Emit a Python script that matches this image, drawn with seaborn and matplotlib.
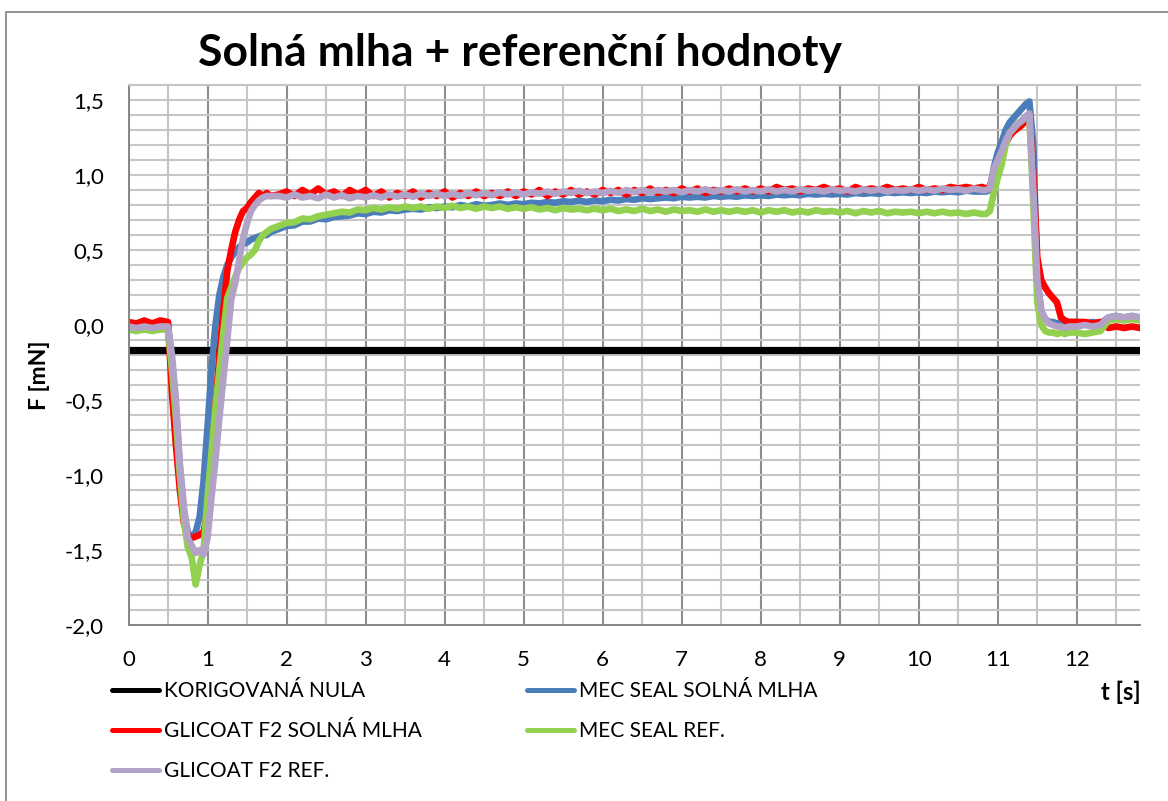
import matplotlib
matplotlib.use("Agg")
import matplotlib.pyplot as plt
import seaborn as sns
import pandas as pd
from matplotlib.ticker import MultipleLocator, FuncFormatter
from matplotlib.lines import Line2D

# ---------------- data ----------------
time_s = (
    [0.0, 0.1, 0.2, 0.3, 0.4, 0.5]
    + [0.55, 0.6, 0.65, 0.7, 0.75, 0.8, 0.85, 0.9, 0.95, 1.0, 1.05, 1.1, 1.15,
       1.2, 1.25, 1.3, 1.35, 1.4, 1.45, 1.5, 1.55, 1.6, 1.65, 1.7, 1.75, 1.8]
    + [1.9, 2.0, 2.1, 2.2, 2.3, 2.4, 2.5, 2.6, 2.7, 2.8,
       2.9, 3.0, 3.1, 3.2, 3.3, 3.4, 3.5, 3.6, 3.7, 3.8,
       3.9, 4.0, 4.1, 4.2, 4.3, 4.4, 4.5, 4.6, 4.7, 4.8,
       4.9, 5.0, 5.1, 5.2, 5.3, 5.4, 5.5, 5.6, 5.7, 5.8,
       5.9, 6.0, 6.1, 6.2, 6.3, 6.4, 6.5, 6.6, 6.7, 6.8,
       6.9, 7.0, 7.1, 7.2, 7.3, 7.4, 7.5, 7.6, 7.7, 7.8,
       7.9, 8.0, 8.1, 8.2, 8.3, 8.4, 8.5, 8.6, 8.7, 8.8,
       8.9, 9.0, 9.1, 9.2, 9.3, 9.4, 9.5, 9.6, 9.7, 9.8,
       9.9, 10.0, 10.1, 10.2, 10.3, 10.4, 10.5, 10.6, 10.7, 10.8]
    + [10.85, 10.9, 10.95, 11.0, 11.05, 11.1, 11.15, 11.2, 11.25, 11.3, 11.35,
       11.4, 11.45, 11.5, 11.55, 11.6, 11.65, 11.7, 11.75, 11.8, 11.85, 11.9]
    + [12.0, 12.1, 12.2, 12.3, 12.4, 12.5, 12.6, 12.7, 12.8]
)

korigovana_nula = -0.165

mec_seal_solna = (
    [0.00, 0.01, -0.01, 0.00, 0.01, 0.00]
    + [-0.25, -0.55, -0.95, -1.25, -1.38, -1.42, -1.38, -1.28, -1.04, -0.68, -0.30, 0.00, 0.20,
       0.32, 0.40, 0.45, 0.49, 0.52, 0.54, 0.55, 0.57, 0.58, 0.59, 0.60, 0.60, 0.62]
    + [0.64, 0.66, 0.665, 0.69, 0.69, 0.71, 0.705, 0.72, 0.725, 0.73,
       0.745, 0.74, 0.755, 0.75, 0.765, 0.76, 0.77, 0.775, 0.77, 0.785,
       0.78, 0.79, 0.785, 0.80, 0.79, 0.805, 0.795, 0.80, 0.81, 0.80,
       0.81, 0.805, 0.815, 0.81, 0.82, 0.815, 0.825, 0.82, 0.83, 0.82,
       0.83, 0.825, 0.835, 0.83, 0.84, 0.835, 0.845, 0.84, 0.845, 0.85,
       0.845, 0.855, 0.85, 0.855, 0.85, 0.86, 0.855, 0.86, 0.855, 0.865,
       0.86, 0.865, 0.86, 0.87, 0.865, 0.87, 0.865, 0.875, 0.87, 0.875,
       0.87, 0.875, 0.87, 0.88, 0.875, 0.88, 0.875, 0.885, 0.88, 0.885,
       0.88, 0.885, 0.88, 0.89, 0.885, 0.89, 0.885, 0.895, 0.89, 0.89]
    + [0.89, 0.90, 1.05, 1.15, 1.22, 1.30, 1.35, 1.38, 1.41, 1.44, 1.47,
       1.49, 1.20, 0.32, 0.09, 0.04, 0.02, 0.02, 0.01, 0.02, 0.01, 0.02]
    + [0.02, 0.01, 0.02, 0.01, 0.05, 0.06, 0.05, 0.06, 0.05]
)

glicoat_solna = (
    [0.02, 0.01, 0.03, 0.01, 0.03, 0.02]
    + [-0.45, -0.80, -1.10, -1.32, -1.40, -1.42, -1.41, -1.40, -1.38, -1.25, -0.90, -0.55, -0.20,
       0.10, 0.36, 0.50, 0.62, 0.70, 0.76, 0.78, 0.82, 0.85, 0.88, 0.86, 0.88, 0.86]
    + [0.87, 0.89, 0.86, 0.90, 0.87, 0.91, 0.87, 0.89, 0.86, 0.90,
       0.87, 0.90, 0.86, 0.89, 0.85, 0.88, 0.86, 0.89, 0.85, 0.88,
       0.86, 0.89, 0.85, 0.88, 0.86, 0.89, 0.86, 0.88, 0.86, 0.89,
       0.86, 0.89, 0.87, 0.90, 0.86, 0.89, 0.87, 0.90, 0.87, 0.89,
       0.87, 0.90, 0.88, 0.90, 0.87, 0.90, 0.88, 0.91, 0.88, 0.90,
       0.88, 0.91, 0.89, 0.91, 0.88, 0.90, 0.89, 0.91, 0.89, 0.91,
       0.89, 0.91, 0.89, 0.92, 0.90, 0.91, 0.89, 0.91, 0.90, 0.92,
       0.90, 0.91, 0.89, 0.92, 0.90, 0.91, 0.90, 0.92, 0.90, 0.91,
       0.90, 0.92, 0.90, 0.91, 0.90, 0.92, 0.91, 0.92, 0.91, 0.92]
    + [0.91, 0.92, 1.02, 1.09, 1.15, 1.21, 1.26, 1.29, 1.31, 1.33, 1.36,
       1.39, 1.00, 0.45, 0.30, 0.25, 0.21, 0.18, 0.15, 0.05, 0.03, 0.02]
    + [0.02, 0.02, 0.01, 0.02, -0.02, -0.01, -0.02, -0.01, -0.02]
)

mec_seal_ref = (
    [-0.03, -0.04, -0.03, -0.04, -0.03, -0.03]
    + [-0.30, -0.62, -1.00, -1.30, -1.48, -1.55, -1.73, -1.60, -1.50, -1.15, -0.85, -0.55, -0.30,
       -0.05, 0.18, 0.25, 0.32, 0.38, 0.42, 0.45, 0.47, 0.50, 0.56, 0.60, 0.62, 0.64]
    + [0.66, 0.68, 0.685, 0.71, 0.705, 0.725, 0.735, 0.745, 0.755, 0.75,
       0.77, 0.765, 0.78, 0.77, 0.785, 0.775, 0.79, 0.78, 0.79, 0.775,
       0.79, 0.78, 0.795, 0.78, 0.79, 0.775, 0.79, 0.78, 0.79, 0.775,
       0.785, 0.775, 0.785, 0.77, 0.78, 0.765, 0.78, 0.77, 0.775, 0.765,
       0.775, 0.765, 0.775, 0.76, 0.77, 0.76, 0.775, 0.76, 0.77, 0.755,
       0.77, 0.76, 0.765, 0.755, 0.77, 0.755, 0.765, 0.755, 0.765, 0.755,
       0.765, 0.75, 0.765, 0.755, 0.765, 0.75, 0.76, 0.75, 0.765, 0.755,
       0.76, 0.75, 0.76, 0.745, 0.76, 0.75, 0.76, 0.745, 0.755, 0.75,
       0.755, 0.745, 0.755, 0.745, 0.755, 0.745, 0.75, 0.74, 0.75, 0.74]
    + [0.74, 0.76, 0.88, 0.98, 1.07, 1.20, 1.28, 1.31, 1.34, 1.36, 1.38,
       1.40, 0.80, 0.15, 0.00, -0.04, -0.05, -0.05, -0.06, -0.05, -0.06, -0.05]
    + [-0.05, -0.06, -0.05, -0.04, 0.03, 0.04, 0.03, 0.04, 0.03]
)

glicoat_ref = (
    [-0.01, -0.02, -0.01, -0.02, -0.01, -0.01]
    + [-0.20, -0.50, -0.93, -1.20, -1.42, -1.47, -1.52, -1.50, -1.53, -1.42, -1.15, -0.90, -0.62,
       -0.36, -0.10, 0.17, 0.28, 0.43, 0.58, 0.68, 0.76, 0.80, 0.83, 0.85, 0.86, 0.86]
    + [0.86, 0.85, 0.87, 0.85, 0.86, 0.845, 0.87, 0.85, 0.865, 0.845,
       0.86, 0.85, 0.865, 0.85, 0.87, 0.855, 0.87, 0.855, 0.875, 0.86,
       0.875, 0.86, 0.875, 0.86, 0.88, 0.865, 0.88, 0.865, 0.885, 0.87,
       0.885, 0.87, 0.885, 0.875, 0.89, 0.875, 0.89, 0.88, 0.895, 0.88,
       0.89, 0.88, 0.895, 0.88, 0.90, 0.885, 0.90, 0.885, 0.90, 0.89,
       0.90, 0.885, 0.90, 0.89, 0.905, 0.89, 0.90, 0.89, 0.905, 0.89,
       0.90, 0.89, 0.905, 0.89, 0.90, 0.89, 0.905, 0.895, 0.90, 0.89,
       0.905, 0.895, 0.90, 0.89, 0.905, 0.895, 0.905, 0.89, 0.90, 0.895,
       0.905, 0.895, 0.905, 0.895, 0.91, 0.90, 0.905, 0.895, 0.91, 0.90]
    + [0.90, 0.91, 1.04, 1.10, 1.16, 1.23, 1.28, 1.31, 1.34, 1.36, 1.39,
       1.41, 0.90, 0.30, 0.10, 0.04, 0.01, 0.00, -0.01, -0.01, -0.02, -0.01]
    + [-0.01, 0.00, -0.01, 0.00, 0.05, 0.06, 0.05, 0.06, 0.05]
)

series_names = ["KORIGOVANÁ NULA", "MEC SEAL SOLNÁ MLHA", "GLICOAT F2 SOLNÁ MLHA",
                "MEC SEAL REF.", "GLICOAT F2 REF."]
series_colors = ["#000000", "#4A7DBA", "#FF0000", "#92D050", "#B3A2C7"]

y_ticks_values = [-2.0, -1.5, -1.0, -0.5, 0.0, 0.5, 1.0, 1.5]
title_text = "Solná mlha + referenční hodnoty"
x_label = "t [s]"
y_label = "F [mN]"

# ---------------- build long table ----------------
values = [[korigovana_nula] * len(time_s), mec_seal_solna, glicoat_solna,
          mec_seal_ref, glicoat_ref]
frames = []
for name, vals in zip(series_names, values):
    frames.append(pd.DataFrame({"t": time_s, "F": vals, "series": name}))
df = pd.concat(frames, ignore_index=True)

# ---------------- style ----------------
sns.set_style("white")
plt.rcParams["font.family"] = ["Lato", "DejaVu Sans"]
plt.rcParams["text.color"] = "#000000"

W, H = 1168, 801
fig = plt.figure(figsize=(W / 100, H / 100), dpi=100)
ax = fig.add_axes([128.5 / W, 1 - 625 / H, (1140 - 128.5) / W, (625 - 85) / H])

for name, col in zip(series_names, series_colors):
    sub = df[df["series"] == name]
    sns.lineplot(data=sub, x="t", y="F", color=col, linewidth=5.2 if col == "#000000" else 4.8,
                 estimator=None, sort=False, ax=ax, label=name, legend=False)

ax.set_xlim(0, 12.8)
ax.set_ylim(-2.0, 1.6)
ax.xaxis.set_major_locator(MultipleLocator(1))
ax.xaxis.set_minor_locator(MultipleLocator(0.5))
ax.set_yticks(y_ticks_values)
ax.yaxis.set_minor_locator(MultipleLocator(0.1))
ax.xaxis.set_major_formatter(FuncFormatter(lambda v, p: f"{v:.0f}"))
ax.yaxis.set_major_formatter(FuncFormatter(lambda v, p: f"{v:.1f}".replace(".", ",").replace("\u2212", "-")))

ax.grid(which="major", axis="x", color="#8E8E8E", lw=1.5)
ax.grid(which="minor", axis="x", color="#C6C6C6", lw=1.5)
ax.grid(which="both", axis="y", color="#C6C6C6", lw=1.5)
ax.set_axisbelow(True)

for s in ["left", "bottom"]:
    ax.spines[s].set_color("#868686")
    ax.spines[s].set_linewidth(1.4)
ax.spines["top"].set_color("#C6C6C6")
ax.spines["top"].set_linewidth(1.5)
ax.spines["right"].set_visible(False)

ax.tick_params(axis="y", which="major", length=6.5, width=1.3, color="#868686",
               pad=11, labelsize=16, labelcolor="#000000")
ax.tick_params(axis="x", which="major", length=0, pad=18, labelsize=16, labelcolor="#000000")
ax.tick_params(which="minor", length=0)
ax.set_xlabel("")
ax.set_ylabel("")

# title and axis titles
fig.text(520 / W, 1 - 66 / H, title_text, ha="center", va="baseline",
         fontsize=32, fontweight="bold", color="#000000")
fig.text(1121 / W, 1 - 692 / H, x_label, ha="center", va="center",
         fontsize=17, fontweight="bold", color="#000000")
fig.text(40 / W, 1 - 375 / H, y_label, ha="center", va="center", rotation=90,
         fontsize=16.5, fontweight="bold", color="#000000")

# legend (Excel row-wise order -> column-major for matplotlib)
order = [0, 2, 4, 1, 3]
handles = [Line2D([], [], color=series_colors[i], lw=3.6, solid_capstyle="round") for i in order]
labels = [series_names[i] for i in order]
leg = fig.legend(handles, labels, loc="upper left", bbox_to_anchor=(112 / W, 1 - 681 / H),
                 bbox_transform=fig.transFigure, ncol=2, frameon=False, fontsize=15,
                 borderpad=0, borderaxespad=0, handlelength=2.25, handletextpad=0.25,
                 columnspacing=5.05, labelspacing=0.97)
for t in leg.get_texts():
    t.set_color("#000000")

# outer chart border (left and top visible in the reference)
fig.add_artist(Line2D([6 / W, 6 / W, 1.0], [0.0, 1 - 12 / H, 1 - 12 / H],
                      transform=fig.transFigure, color="#8A8A8A", lw=1.3))

fig.savefig("out.png", dpi=100)
